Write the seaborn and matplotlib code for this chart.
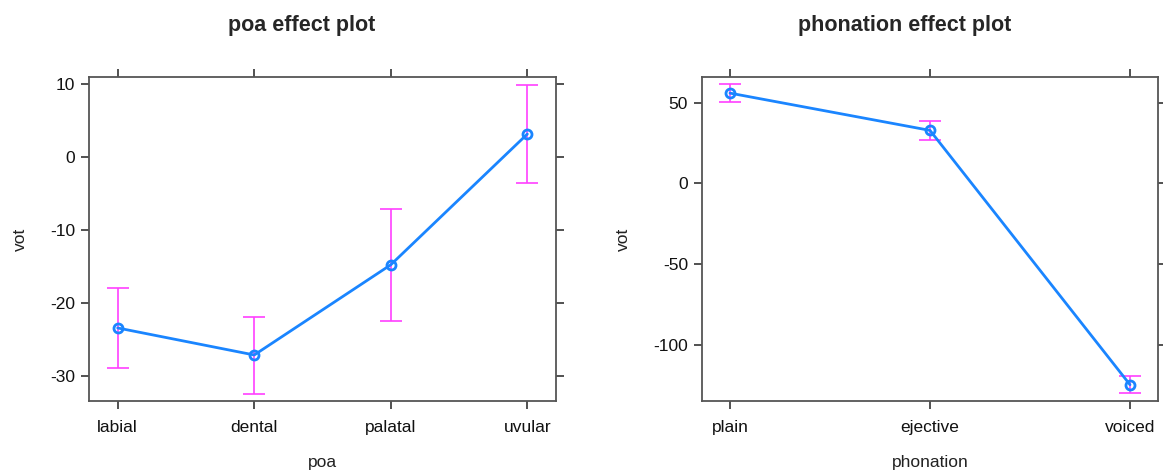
import numpy as np
import pandas as pd
import matplotlib
matplotlib.use("Agg")
import matplotlib.pyplot as plt
import seaborn as sns

# poa effect
poa = ["labial", "dental", "palatal", "uvular"]
poa_fit = [-23.4, -27.1, -14.75, 3.15]
poa_lower = [-28.9, -32.4, -22.4, -3.6]
poa_upper = [-17.9, -21.9, -7.1, 9.9]

# phonation effect
phonation = ["plain", "ejective", "voiced"]
phon_fit = [56.0, 32.9, -124.8]
phon_lower = [50.6, 26.9, -130.2]
phon_upper = [61.4, 38.9, -119.6]

sns.set_style("white")
plt.rcParams["font.family"] = ["Liberation Sans", "DejaVu Sans"]

LINE = "#1a85ff"
ERR = "#ff40ff"
FRAME = "#555555"

fig = plt.figure(figsize=(11.63, 4.70), dpi=100)
W, H = 1163, 470
ax1 = fig.add_axes([89 / W, 69 / H, 467 / W, 324 / H])
ax2 = fig.add_axes([702 / W, 69 / H, 456 / W, 324 / H])


def effect_panel(ax, cats, fit, lo, hi, xname, ylim, yticks, pad):
    df = pd.DataFrame({xname: cats, "vot": fit})
    xs = np.arange(len(cats))
    ax.errorbar(xs, fit, yerr=[np.array(fit) - np.array(lo), np.array(hi) - np.array(fit)],
                fmt="none", ecolor=ERR, elinewidth=1.2, capsize=8, capthick=1.2, zorder=2)
    sns.pointplot(data=df, x=xname, y="vot", color=LINE, markers="o",
                  markersize=6.5, linewidth=2, ax=ax, errorbar=None, zorder=3)
    for ln in ax.lines:
        if ln.get_marker() == "o":
            ln.set_markerfacecolor("none")
            ln.set_markeredgewidth(2)
    ax.set_xlim(-pad, len(cats) - 1 + pad)
    ax.set_ylim(*ylim)
    ax.set_yticks(yticks)
    ax.set_yticklabels([str(t) for t in yticks])
    ax.set_xlabel(xname, fontsize=12.5, labelpad=14, color="#222222")
    ax.set_ylabel("vot", fontsize=12.5, labelpad=16, color="#222222")
    ax.tick_params(axis="both", which="both", direction="out", length=6, width=1.2,
                   color="#333333", labelsize=12.5, labelcolor="#111111",
                   top=True, right=True, left=True, bottom=True, pad=4)
    ax.tick_params(axis="x", pad=8)
    for s in ax.spines.values():
        s.set_visible(True)
        s.set_color(FRAME)
        s.set_linewidth(1.3)


effect_panel(ax1, poa, poa_fit, poa_lower, poa_upper, "poa",
             (-33.4, 10.96), [-30, -20, -10, 0, 10], 0.21)
effect_panel(ax2, phonation, phon_fit, phon_lower, phon_upper, "phonation",
             (-134.9, 66.0), [-100, -50, 0, 50], 0.14)

fig.text(302 / W, 1 - 25 / H, "poa effect plot", ha="center", va="center",
         fontsize=15.5, fontweight="bold")
fig.text(905 / W, 1 - 25 / H, "phonation effect plot", ha="center", va="center",
         fontsize=15.5, fontweight="bold")

fig.savefig("out.png", dpi=100)
